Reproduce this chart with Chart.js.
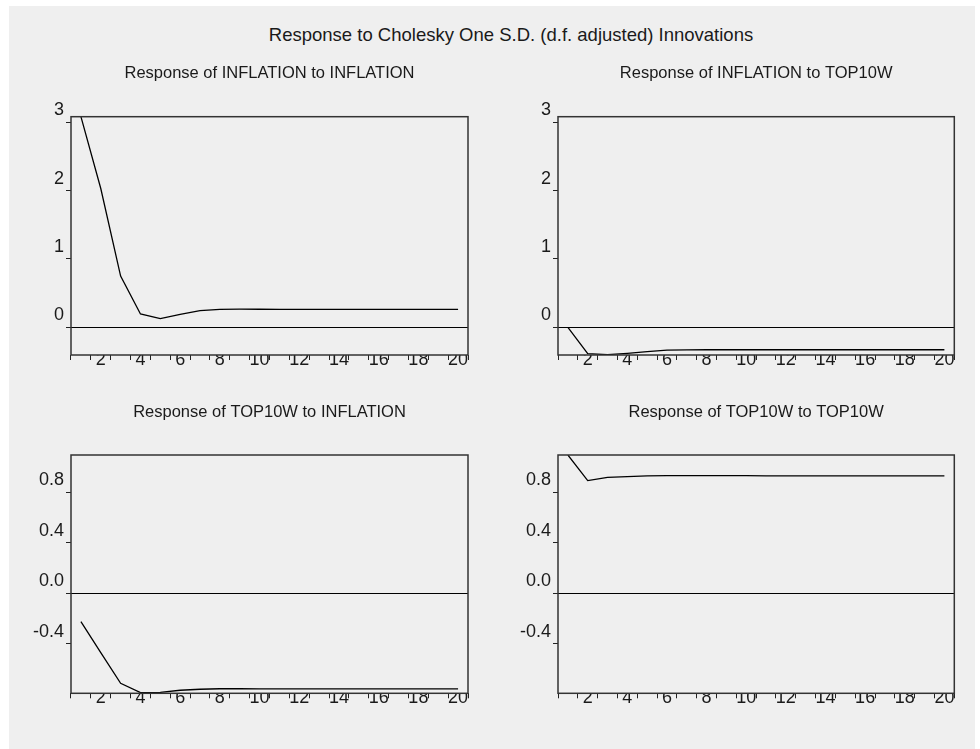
<!DOCTYPE html>
<html>
<head>
<meta charset="utf-8">
<script src="https://cdn.jsdelivr.net/npm/chart.js@4.4.1/dist/chart.umd.min.js"></script>
<style>
  body { margin: 0; background: #fff; width: 980px; height: 749px; position: relative; overflow: hidden; }
  #panel { position: absolute; left: 9px; top: 6px; width: 966px; height: 743px; background: #efefef; }
  #mainTitle { position: absolute; left: 240px; width: 542px; top: 24px; text-align: center;
    font: 18.5px "Liberation Sans", Arial, sans-serif; color: #1a1a1a; white-space: nowrap; }
  canvas { position: absolute; }
</style>
</head>
<body>
<div id="panel"></div>
<div id="mainTitle">Response to Cholesky One S.D. (d.f. adjusted) Innovations</div>
<canvas id="c1" style="left:9px;top:50px" width="481" height="330"></canvas>
<canvas id="c2" style="left:490px;top:50px" width="485" height="330"></canvas>
<canvas id="c3" style="left:9px;top:380px" width="481" height="340"></canvas>
<canvas id="c4" style="left:490px;top:380px" width="485" height="340"></canvas>
<script>
// periods after the shock
var horizon = ["1","2","3","4","5","6","7","8","9","10","11","12","13","14","15","16","17","18","19","20"];

// impulse responses
var infToInf = [3.08, 2.03, 0.75, 0.195, 0.126, 0.19, 0.243, 0.263, 0.265, 0.264, 0.263, 0.262, 0.262, 0.262, 0.262, 0.262, 0.262, 0.262, 0.262, 0.262];
var infToTop = [0.0, -0.386, -0.40, -0.38, -0.355, -0.335, -0.33, -0.328, -0.328, -0.328, -0.328, -0.328, -0.328, -0.328, -0.328, -0.328, -0.328, -0.328, -0.328, -0.328];
var topToInf = [-0.225, -0.47, -0.713, -0.787, -0.785, -0.768, -0.76, -0.756, -0.756, -0.757, -0.757, -0.757, -0.757, -0.757, -0.757, -0.757, -0.757, -0.757, -0.757, -0.757];
var topToTop = [1.095, 0.892, 0.918, 0.924, 0.93, 0.932, 0.932, 0.931, 0.931, 0.931, 0.93, 0.93, 0.93, 0.93, 0.93, 0.93, 0.93, 0.93, 0.93, 0.93];

// y axis ticks
var inflationTicks = [0, 1, 2, 3];
var top10wTicks = [-0.4, 0.0, 0.4, 0.8];

var FONT = '"Liberation Sans", Arial, sans-serif';
var INK = '#1a1a1a';

// box round the plot area
var boxPlugin = {
  id: 'box',
  afterDraw: function(chart) {
    var a = chart.chartArea, ctx = chart.ctx;
    ctx.save();
    ctx.strokeStyle = '#333';
    ctx.lineWidth = 1.5;
    ctx.strokeRect(a.left, a.top, a.right - a.left, a.bottom - a.top);
    ctx.restore();
  }
};

function makePanel(id, title, values, yMin, yMax, yTicks, decimals, g) {
  new Chart(document.getElementById(id), {
    type: 'line',
    data: {
      labels: horizon,
      datasets: [{
        data: values,
        borderColor: '#000',
        borderWidth: 1.3,
        pointRadius: 0,
        tension: 0,
        fill: false
      }]
    },
    options: {
      responsive: false,
      animation: false,
      layout: { padding: { left: 0, right: g.right, top: 0, bottom: g.bottom } },
      plugins: {
        legend: { display: false },
        tooltip: { enabled: false },
        title: {
          display: true,
          text: title,
          fullSize: false,
          color: INK,
          font: { family: FONT, size: 16.5, weight: 'normal', lineHeight: 1.2 },
          padding: { top: g.titleTop, bottom: g.titleBottom }
        }
      },
      scales: {
        x: {
          type: 'category',
          offset: true,
          grid: { offset: true, drawOnChartArea: false, tickLength: 5, tickColor: '#222' },
          border: { display: false },
          ticks: {
            autoSkip: false, maxRotation: 0, padding: -11, color: INK,
            font: { family: FONT, size: 18 },
            callback: function(v, i) { return (i + 1) % 2 === 0 ? horizon[i] : ''; }
          },
          afterFit: function(s) { s.height = 25; }
        },
        y: {
          min: yMin,
          max: yMax,
          afterBuildTicks: function(s) { s.ticks = yTicks.map(function(v) { return { value: v }; }); },
          grid: {
            drawOnChartArea: true,
            tickLength: 5,
            tickColor: '#222',
            color: function(c) { return c.tick && c.tick.value === 0 ? '#000' : 'rgba(0,0,0,0)'; }
          },
          border: { display: false },
          ticks: {
            padding: 2, labelOffset: -12, color: INK,
            font: { family: FONT, size: 18 },
            callback: function(v) { return decimals ? Number(v).toFixed(decimals) : String(v); }
          },
          afterFit: function(s) { s.width = g.yWidth; }
        }
      }
    },
    plugins: [boxPlugin]
  });
}

makePanel('c1', 'Response of INFLATION to INFLATION', infToInf, -0.405, 3.08, inflationTicks, 0,
  { yWidth: 62, right: 22, bottom: 0, titleTop: 13.8, titleBottom: 33.1 });
makePanel('c2', 'Response of INFLATION to TOP10W', infToTop, -0.405, 3.08, inflationTicks, 0,
  { yWidth: 68, right: 20.7, bottom: 0, titleTop: 13.8, titleBottom: 33.1 });
makePanel('c3', 'Response of TOP10W to INFLATION', topToInf, -0.792, 1.095, top10wTicks, 1,
  { yWidth: 62, right: 22, bottom: 1.7, titleTop: 22.2, titleBottom: 33 });
makePanel('c4', 'Response of TOP10W to TOP10W', topToTop, -0.792, 1.095, top10wTicks, 1,
  { yWidth: 68, right: 20.7, bottom: 1.7, titleTop: 22.2, titleBottom: 33 });
</script>
</body>
</html>
